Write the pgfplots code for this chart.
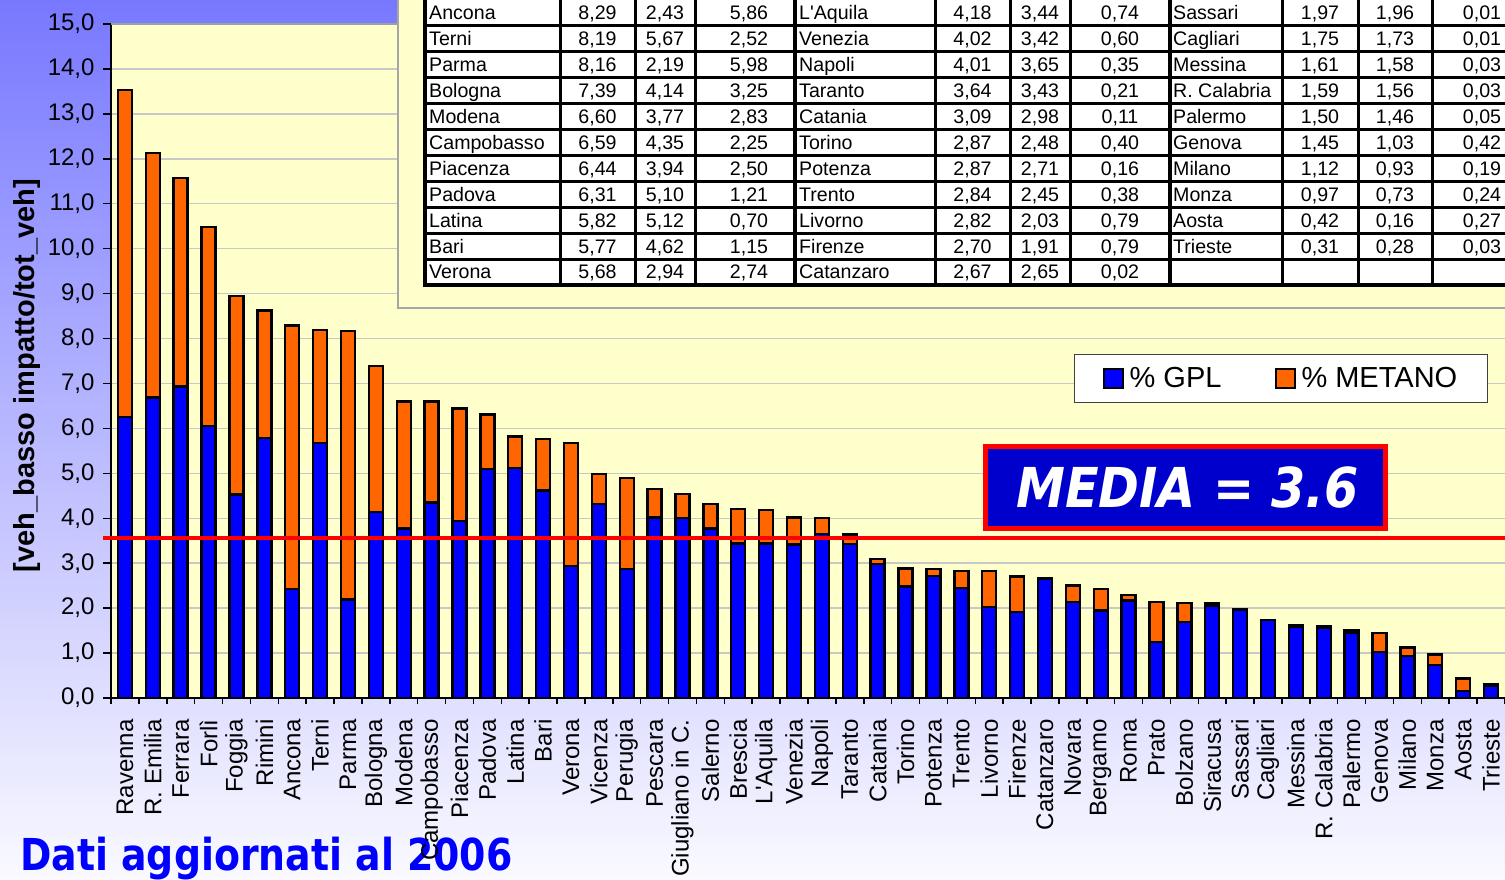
\documentclass[border=0pt]{standalone}
\usepackage{pgfplots}
\pgfplotsset{compat=1.18}
\usepackage{pgfplotstable}
\usepackage{fontspec}
\setmainfont{Liberation Sans}
\newfontfamily\tah{DejaVu Sans}[FakeStretch=0.86]
\newfontfamily\tahm{DejaVu Sans}[FakeStretch=0.895]
\definecolor{bgtop}{RGB}{120,120,255}
\definecolor{bgmid}{RGB}{195,195,255}
\definecolor{bgbot}{RGB}{250,250,255}
\definecolor{plotbg}{RGB}{255,255,204}
\definecolor{gpl}{RGB}{0,0,255}
\definecolor{met}{RGB}{255,102,0}
\definecolor{mediabg}{RGB}{0,0,204}
\definecolor{gridc}{RGB}{200,200,200}

\pgfplotstableread{
x gpl met
0 6.25 7.28
1 6.69 5.44
2 6.93 4.64
3 6.05 4.43
4 4.53 4.42
5 5.79 2.83
6 2.43 5.86
7 5.67 2.52
8 2.19 5.98
9 4.14 3.25
10 3.77 2.83
11 4.35 2.25
12 3.94 2.50
13 5.10 1.21
14 5.12 0.70
15 4.62 1.15
16 2.94 2.74
17 4.32 0.67
18 2.87 2.03
19 4.02 0.63
20 4.01 0.53
21 3.77 0.55
22 3.44 0.77
23 3.44 0.74
24 3.42 0.60
25 3.65 0.35
26 3.43 0.21
27 2.98 0.11
28 2.48 0.40
29 2.71 0.16
30 2.45 0.38
31 2.03 0.79
32 1.91 0.79
33 2.65 0.02
34 2.14 0.36
35 1.95 0.48
36 2.17 0.12
37 1.25 0.89
38 1.69 0.42
39 2.05 0.05
40 1.96 0.01
41 1.73 0.01
42 1.58 0.03
43 1.56 0.03
44 1.46 0.05
45 1.03 0.42
46 0.93 0.19
47 0.73 0.24
48 0.16 0.27
49 0.28 0.03
}\data

\newcommand\trow[5]{%
  \node[anchor=base west] at ({\gx},{20+25.9*#1}) {#2};
  \node[anchor=base] at ({\ga},{20+25.9*#1}) {#3};
  \node[anchor=base] at ({\gb},{20+25.9*#1}) {#4};
  \node[anchor=base] at ({\gc},{20+25.9*#1}) {#5};
}

\begin{document}
\begin{tikzpicture}[x=1pt,y=1pt]
\shade[top color=bgtop, middle color=bgmid, bottom color=bgbot] (0,0) rectangle (1505,880);
\node[anchor=base west, inner sep=0pt, text=blue, font=\tah\bfseries\fontsize{44}{44}\selectfont] at (20,9) {Dati aggiornati al 2006};

\begin{axis}[
  at={(111pt,182pt)}, anchor=south west, scale only axis,
  width=1394pt, height=674pt,
  xmin=-0.5, xmax=49.5, ymin=0, ymax=15,
  ybar stacked, bar width=14pt,
  axis background/.style={fill=plotbg},
  axis lines*=left,
  axis line style={black, line width=1.5pt},
  tick align=outside,
  major tick length=8pt, minor tick length=6pt,
  tick style={black, line width=1.5pt},
  xtick={0,...,49},
  major x tick style={draw=none},
  minor xtick={-0.5,0.5,...,49.5},
  xticklabels={Ravenna, R. Emilia, Ferrara, Forlì, Foggia, Rimini, Ancona, Terni, Parma, Bologna, Modena, Campobasso, Piacenza, Padova, Latina, Bari, Verona, Vicenza, Perugia, Pescara, Giugliano in C., Salerno, Brescia, L\textquotesingle Aquila, Venezia, Napoli, Taranto, Catania, Torino, Potenza, Trento, Livorno, Firenze, Catanzaro, Novara, Bergamo, Roma, Prato, Bolzano, Siracusa, Sassari, Cagliari, Messina, R. Calabria, Palermo, Genova, Milano, Monza, Aosta, Trieste},
  xticklabel style={rotate=90, anchor=east, font=\fontsize{24}{24}\selectfont},
  xticklabel shift=10pt,
  ytick={0,1,...,15},
  yticklabel style={font=\fontsize{24}{24}\selectfont, /pgf/number format/.cd, fixed, fixed zerofill, precision=1, use comma, assume math mode=true},
  yticklabel shift=5pt,
  scaled y ticks=false,
  ymajorgrids, grid style={gridc, line width=1.5pt},
  ylabel={[veh\_basso impatto/tot\_veh]},
  ylabel style={font=\bfseries\fontsize{29}{29}\selectfont, at={(axis description cs:-0.0599,0.4785)}, anchor=center},
  legend columns=2,
  legend style={at={(axis description cs:0.8393,0.474)}, anchor=center, draw=black!75, line width=1pt, fill=white, font=\fontsize{29}{29}\selectfont, inner xsep=28pt, inner ysep=11.5pt, /tikz/every odd column/.append style={column sep=4pt}, /tikz/every even column/.append style={column sep=51pt}},
  legend image code/.code={\draw[#1, line width=2pt] (0pt,-9.5pt) rectangle (19pt,9.5pt);},
]
\addplot[fill=gpl, draw=black, line width=2.4pt] table[x=x, y=gpl] {\data};
\addplot[fill=met, draw=black, line width=2.4pt] table[x=x, y=met] {\data};
\legend{\% GPL, \% METANO}
\draw[gridc!80!black, line width=1.5pt] (axis description cs:0,1) -- (axis description cs:1,1);
\end{axis}

\begin{axis}[
  at={(111pt,182pt)}, anchor=south west, scale only axis,
  width=1394pt, height=674pt,
  xmin=-0.5, xmax=49.5, ymin=0, ymax=15,
  hide axis, clip=false]
\addplot[red, line width=4pt, forget plot] coordinates {(-0.79,3.55) (49.6,3.55)};
\end{axis}

\begin{scope}[shift={(0,880)}, y=-1pt]
  \fill[plotbg] (398,-5) rectangle (1515,308);
  \draw[black!35, line width=1.5pt] (398,-5) -- (398,308) -- (1515,308);
  \fill[white] (425,-3) rectangle (1515,285);
  \foreach \k in {1,...,10} \draw[line width=3pt] (425,{0.1+25.9*\k}) -- (1515,{0.1+25.9*\k});
  \draw[line width=4pt] (425,-3) -- (425,285) -- (1515,285);
  \foreach \xx in {560,635,695,935,1010,1070,1282,1358,1432} \draw[line width=3pt] (\xx,-3) -- (\xx,285);
  \foreach \xx in {795,1170} \draw[line width=4pt] (\xx,-3) -- (\xx,285);
  \begin{scope}[every node/.style={inner sep=0pt, font=\fontsize{19.6}{19.6}\selectfont}]
  \def\gx{429}\def\ga{597.5}\def\gb{665}\def\gc{749}
  \trow{0}{Ancona}{8,29}{2,43}{5,86}
  \trow{1}{Terni}{8,19}{5,67}{2,52}
  \trow{2}{Parma}{8,16}{2,19}{5,98}
  \trow{3}{Bologna}{7,39}{4,14}{3,25}
  \trow{4}{Modena}{6,60}{3,77}{2,83}
  \trow{5}{Campobasso}{6,59}{4,35}{2,25}
  \trow{6}{Piacenza}{6,44}{3,94}{2,50}
  \trow{7}{Padova}{6,31}{5,10}{1,21}
  \trow{8}{Latina}{5,82}{5,12}{0,70}
  \trow{9}{Bari}{5,77}{4,62}{1,15}
  \trow{10}{Verona}{5,68}{2,94}{2,74}
  \def\gx{799}\def\ga{972.5}\def\gb{1040}\def\gc{1120}
  \trow{0}{L\textquotesingle Aquila}{4,18}{3,44}{0,74}
  \trow{1}{Venezia}{4,02}{3,42}{0,60}
  \trow{2}{Napoli}{4,01}{3,65}{0,35}
  \trow{3}{Taranto}{3,64}{3,43}{0,21}
  \trow{4}{Catania}{3,09}{2,98}{0,11}
  \trow{5}{Torino}{2,87}{2,48}{0,40}
  \trow{6}{Potenza}{2,87}{2,71}{0,16}
  \trow{7}{Trento}{2,84}{2,45}{0,38}
  \trow{8}{Livorno}{2,82}{2,03}{0,79}
  \trow{9}{Firenze}{2,70}{1,91}{0,79}
  \trow{10}{Catanzaro}{2,67}{2,65}{0,02}
  \def\gx{1173}\def\ga{1320}\def\gb{1395}\def\gc{1482}
  \trow{0}{Sassari}{1,97}{1,96}{0,01}
  \trow{1}{Cagliari}{1,75}{1,73}{0,01}
  \trow{2}{Messina}{1,61}{1,58}{0,03}
  \trow{3}{R. Calabria}{1,59}{1,56}{0,03}
  \trow{4}{Palermo}{1,50}{1,46}{0,05}
  \trow{5}{Genova}{1,45}{1,03}{0,42}
  \trow{6}{Milano}{1,12}{0,93}{0,19}
  \trow{7}{Monza}{0,97}{0,73}{0,24}
  \trow{8}{Aosta}{0,42}{0,16}{0,27}
  \trow{9}{Trieste}{0,31}{0,28}{0,03}
  \end{scope}
  \node[fill=mediabg, draw=red, line width=5pt, minimum width=400pt, minimum height=82pt, inner sep=0pt, text=white, font=\tahm\bfseries\itshape\fontsize{55}{55}\selectfont] at (1185.5,487.5) {\hspace*{4pt}MEDIA = 3.6};
\end{scope}
\pgfresetboundingbox
\useasboundingbox (0,0) rectangle (1505,880);
\end{tikzpicture}
\end{document}
